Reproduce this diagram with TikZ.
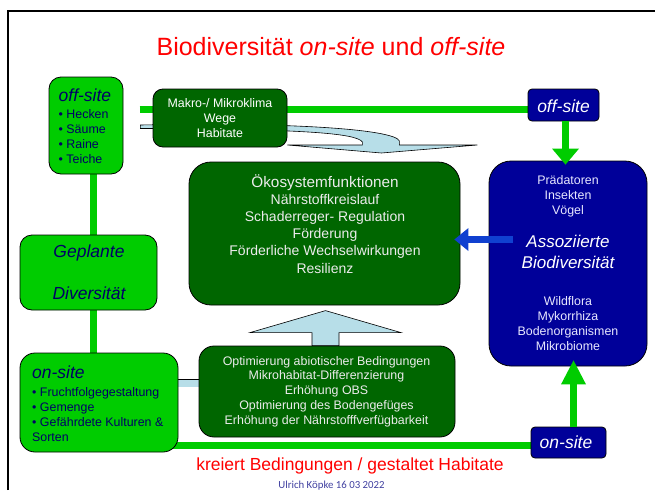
\documentclass[tikz,border=0pt]{standalone}
\usepackage{fontspec}
\setmainfont{Liberation Sans}
\newfontfamily\signfont{Carlito}
\usetikzlibrary{arrows.meta,backgrounds,calc}

\definecolor{litegreen}{RGB}{0,204,0}
\definecolor{darkgreen}{RGB}{0,102,0}
\definecolor{navyfill}{RGB}{0,0,153}
\definecolor{navyink}{RGB}{0,0,102}
\definecolor{paleblue}{RGB}{183,222,232}
\definecolor{pushblue}{RGB}{16,64,208}
\definecolor{paper}{RGB}{236,236,236}
\definecolor{lilac}{RGB}{232,232,255}
\definecolor{signature}{RGB}{64,64,160}

\begin{document}
\begin{tikzpicture}[
        x=1pt, y=-1pt,
        box/.style={draw=black, line width=0.8pt, inner sep=0pt},
        fieldbox/.style={box, fill=litegreen, rounded corners=12pt},
        effectbox/.style={box, fill=darkgreen, rounded corners=14pt},
        sitebox/.style={box, fill=navyfill, rounded corners=4pt},
        assobox/.style={box, fill=navyfill, rounded corners=22pt},
        small/.style={font=\fontsize{12.4}{15}\selectfont, inner sep=0pt},
        headline/.style={font=\fontsize{17.5}{20}\selectfont\itshape, inner sep=0pt},
        greenline/.style={draw=litegreen, line width=7pt},
        palelink/.style={draw=black, line width=0.6pt, double=paleblue, double distance=7pt},
        paleshape/.style={draw=black, line width=0.6pt, fill=paleblue},
        greenarrow/.style={draw=litegreen, line width=7pt},
        bluearrow/.style={draw=pushblue, line width=7pt,
            -{Triangle[width=23pt, length=14pt, line width=0pt]}},
    ]
    \useasboundingbox (0,0) rectangle (655,490);
    \draw[line width=2pt] (8.3,490) -- (8.3,10.8) -- (655,10.8);

    \node[font=\fontsize{25}{30}\selectfont, text=red, anchor=base] (title) at (331,55)
        {Biodiversität \textit{on-site} und \textit{off-site}};

    % boxes
    \node[fieldbox, minimum width=74pt, minimum height=97pt] (offL) at (86,125.5) {};
    \node[fieldbox, minimum width=137pt, minimum height=75pt] (plan) at (88.5,272.5) {};
    \node[fieldbox, rounded corners=15pt, minimum width=158pt, minimum height=99pt] (onL) at (99,402.5) {};
    \node[effectbox, rounded corners=10pt, minimum width=134pt, minimum height=58pt] (makro) at (220,118) {};
    \node[effectbox, rounded corners=22pt, minimum width=271pt, minimum height=143pt] (oeko) at (324.5,233.5) {};
    \node[effectbox, rounded corners=15pt, minimum width=256pt, minimum height=91pt] (opt) at (327,391.5) {};
    \node[sitebox, minimum width=71pt, minimum height=32pt] (offR) at (563.5,105) {};
    \node[assobox, minimum width=158pt, minimum height=205pt] (asso) at (568,263.5) {};
    \node[sitebox, minimum width=75pt, minimum height=31pt] (onR) at (568.5,442.5) {};

    % texts
    \node[small, text=navyink, align=left, anchor=base west] (offLtext) at (58.5,163)
        {{\fontsize{17.5}{15}\selectfont\itshape off-site}\\[2pt]• Hecken\\• Säume\\• Raine\\• Teiche};
    \node[headline, text=navyink, align=center, anchor=base] (plantext) at (89,299)
        {Geplante\\[22pt]Diversität};
    \node[small, text=navyink, align=left, anchor=base west] (onLtext) at (32,441)
        {{\fontsize{17.5}{15}\selectfont\itshape on-site}\\[3pt]• Fruchtfolgegestaltung\\• Gemenge\\• Gefährdete Kulturen \&\\Sorten};
    \node[small, text=white, align=center, anchor=base] (makrotext) at (220,137)
        {Makro-/ Mikroklima\\Wege\\Habitate};
    \node[font=\fontsize{14}{17.2}\selectfont, inner sep=0pt, text=paper, align=center, anchor=base] (oekotext) at (325,273)
        {{\fontsize{15.3}{17.2}\selectfont Ökosystemfunktionen}\\Nährstoffkreislauf\\Schaderreger- Regulation\\Förderung\\Förderliche Wechselwirkungen\\Resilienz};
    \node[font=\fontsize{12.4}{14.75}\selectfont, inner sep=0pt, text=paper, align=center, anchor=base] (opttext) at (326.5,424)
        {Optimierung abiotischer Bedingungen\\Mikrohabitat-Differenzierung\\Erhöhung OBS\\Optimierung des Bodengefüges\\Erhöhung der Nährstofffverfügbarkeit};
    \node[headline, text=white, anchor=base] (offRtext) at (563.5,112) {off-site};
    \node[headline, text=white, anchor=base] (onRtext) at (566,448) {on-site};
    \node[small, text=lilac, align=center, anchor=base] (assotext) at (568,350)
        {Prädatoren\\Insekten\\Vögel\\[18pt]{\color{white}\fontsize{17}{15}\selectfont\itshape Assoziierte}\\[6pt]{\color{white}\fontsize{17}{15}\selectfont\itshape Biodiversität}\\[22pt]Wildflora\\Mykorrhiza\\Bodenorganismen\\Mikrobiome};
    \node[font=\fontsize{17.5}{20}\selectfont, text=red, anchor=base] (claim) at (350,470)
        {kreiert Bedingungen / gestaltet Habitate};
    \node[font=\signfont\fontsize{10.8}{12}\selectfont, text=signature, anchor=base] (credit) at (331.5,488)
        {Ulrich Köpke 16 03 2022};

    % links behind the boxes
    \begin{scope}[on background layer]
        \coordinate (spine) at ($(offL.center)+(7,0)$);
        \draw[greenline] (spine) -- (spine |- onL.center);
        \coordinate (topend) at ($(makro.west)+(-13,-8.5)$);
        \draw[greenline] (topend) -- (topend -| offR.center);
        \coordinate (bottomend) at ($(onR.west)+(0,2.5)$);
        \draw[greenline] (onL.center |- bottomend) -- (bottomend -| onR.center);
        \coordinate (linkend) at ($(opt.west)+(0,-8.5)$);
        \draw[palelink] (onL.center |- linkend) -- (linkend -| opt.center);
        \draw[paleshape, shift={(opt.north)}] (-15,0) -- (-15,-13) -- (-77,-13) -- (-1.5,-35)
            -- (74,-13) -- (12,-13) -- (12,0) -- cycle;
        \draw[paleshape, shift={(makro.east)}] (-147,7) .. controls (13,4) and (108,12) .. (112,23)
            -- (112,27) -- (190,27) -- (94,35) -- (0,27) -- (75,27) -- (75,24)
            .. controls (69,15) and (13,11) .. (-147,10.5) -- cycle;
    \end{scope}

    % arrows on top
    \draw[greenarrow, -{Triangle[width=27pt, length=16pt, line width=0pt]}]
        ($(offR.south)+(2,0)$) -- ($(offR.south |- asso.north)+(2,4)$);
    \draw[greenarrow, -{Triangle[width=25pt, length=24pt, line width=0pt]}]
        ($(onR.north)+(5,0)$) -- ($(onR.north |- asso.south)+(5,-6)$);
    \draw[bluearrow] ($(asso.west |- oeko.east)+(24,6)$) -- ($(oeko.east)+(-6,6)$);
\end{tikzpicture}
\end{document}
